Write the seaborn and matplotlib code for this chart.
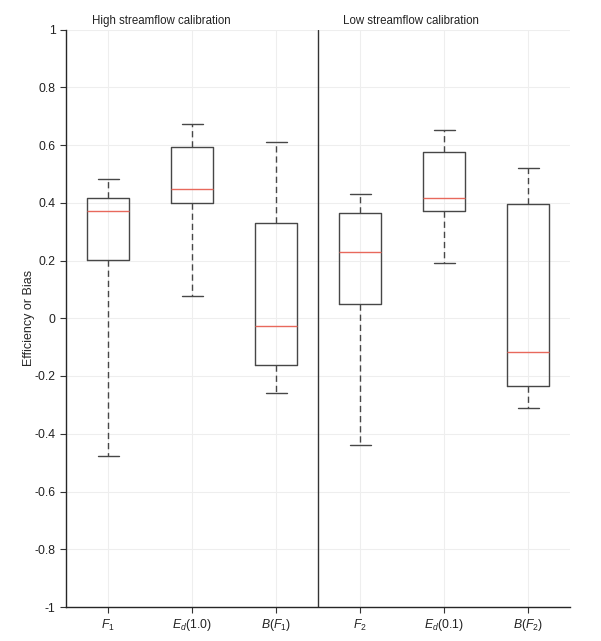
import matplotlib
matplotlib.use("Agg")
import matplotlib.pyplot as plt
import seaborn as sns
import pandas as pd
import numpy as np

# Summary values: lower whisker, Q1, median, Q3, upper whisker
categories = ["F1", "Ed(1.0)", "B(F1)", "F2", "Ed(0.1)", "B(F2)"]
tick_labels = [r"$\mathit{F_1}$", r"$\mathit{E_d}$(1.0)", r"$\mathit{B(F_1)}$",
               r"$\mathit{F_2}$", r"$\mathit{E_d}$(0.1)", r"$\mathit{B(F_2)}$"]
f1_vals = [-0.476, 0.202, 0.372, 0.415, 0.483]
ed10_vals = [0.078, 0.398, 0.449, 0.593, 0.674]
bf1_vals = [-0.259, -0.162, -0.026, 0.331, 0.609]
f2_vals = [-0.440, 0.048, 0.228, 0.363, 0.429]
ed01_vals = [0.192, 0.372, 0.415, 0.575, 0.652]
bf2_vals = [-0.310, -0.233, -0.117, 0.397, 0.521]
group_titles = ["High streamflow calibration", "Low streamflow calibration"]
y_ticks = [-1, -0.8, -0.6, -0.4, -0.2, 0, 0.2, 0.4, 0.6, 0.8, 1]
y_tick_labels = ["-1", "-0.8", "-0.6", "-0.4", "-0.2", "0", "0.2", "0.4", "0.6", "0.8", "1"]

series = [f1_vals, ed10_vals, bf1_vals, f2_vals, ed01_vals, bf2_vals]
df = pd.DataFrame({
    "cat": [c for c, s in zip(categories, series) for _ in s],
    "val": [v for s in series for v in s],
})

sns.set_style("white")
plt.rcParams["font.family"] = ["Liberation Sans", "DejaVu Sans"]
plt.rcParams["mathtext.fontset"] = "custom"
plt.rcParams["mathtext.rm"] = "Liberation Sans"
plt.rcParams["mathtext.it"] = "Liberation Sans:italic"
plt.rcParams["axes.unicode_minus"] = False

fig = plt.figure(figsize=(6.01, 6.41), dpi=100)
ax = fig.add_axes([66 / 601, 1 - 607 / 641, 504 / 601, (607 - 29.5) / 641])

edge = "#474747"
sns.boxplot(data=df, x="cat", y="val", order=categories, ax=ax,
            fill=False, color=edge, linewidth=1.0, width=0.5, whis=(0, 100),
            medianprops={"color": "#e8695c", "linewidth": 1.0},
            whiskerprops={"linestyle": (0, (4.5, 2.8)), "color": edge},
            capprops={"color": edge}, boxprops={"color": edge})

ax.set_xlim(-0.5, 5.5)
ax.set_ylim(-1, 1)
ax.set_yticks(y_ticks)
ax.set_yticklabels(y_tick_labels)
ax.set_xticks(range(len(categories)))
ax.set_xticklabels(tick_labels)
ax.set_xlabel("")
ax.set_ylabel("Efficiency or Bias", fontsize=9, labelpad=0)

ax.grid(True, color="#eeeeee", linewidth=0.8)
ax.set_axisbelow(True)
for s in ["top", "right"]:
    ax.spines[s].set_visible(False)
for s in ["left", "bottom"]:
    ax.spines[s].set_color("#262626")
    ax.spines[s].set_linewidth(1.0)
ax.tick_params(axis="both", direction="out", length=4, width=0.8, color="#333333",
               labelsize=8.8, labelcolor="#222222", left=True, bottom=True)

ax.axvline(2.5, color="#333333", linewidth=1.0)

ax.text(-0.19, 1.005, group_titles[0], transform=ax.get_xaxis_transform(),
        ha="left", va="bottom", fontsize=8.3, color="#222222")
ax.text(2.80, 1.005, group_titles[1], transform=ax.get_xaxis_transform(),
        ha="left", va="bottom", fontsize=8.3, color="#222222")

fig.savefig("out.png", dpi=100)
